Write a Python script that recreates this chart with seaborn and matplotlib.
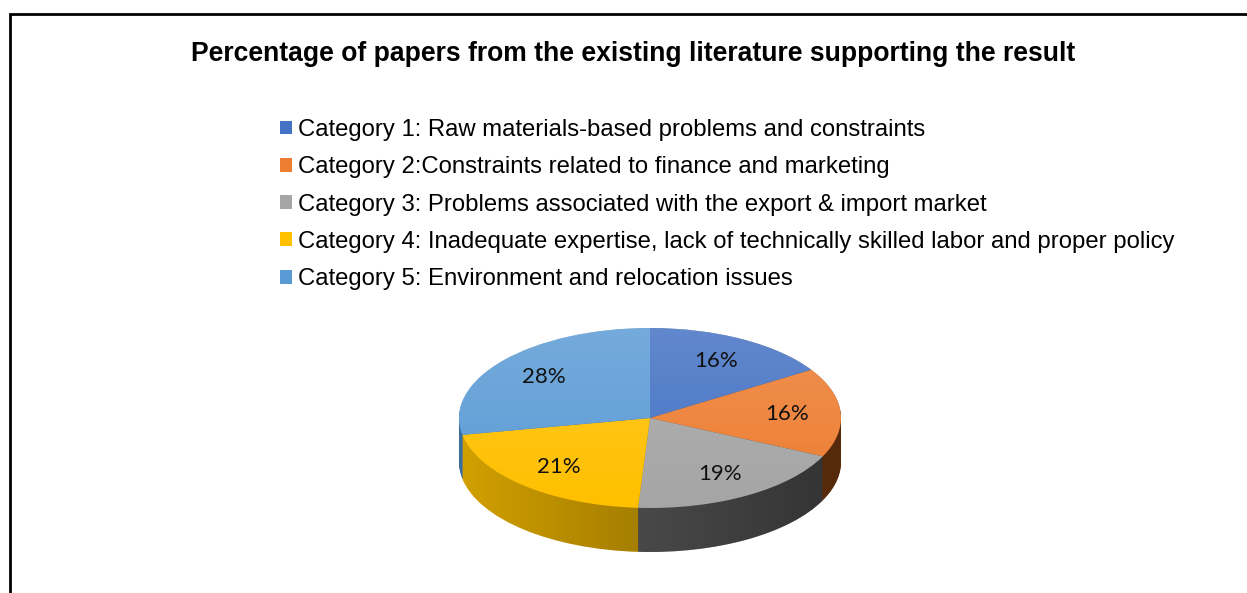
import numpy as np
import matplotlib
matplotlib.use("Agg")
import matplotlib.pyplot as plt
from matplotlib.patches import Polygon, Ellipse, Rectangle
import seaborn as sns

# ---- data ----
categories = [
    "Category 1: Raw materials-based problems and constraints",
    "Category 2:Constraints related to finance and marketing",
    "Category 3: Problems associated with the export & import market",
    "Category 4: Inadequate expertise, lack of technically skilled labor and proper policy",
    "Category 5: Environment and relocation issues",
]
percentages = [16, 16, 19, 21, 28]
title = "Percentage of papers from the existing literature supporting the result"

top_colors = ["#4472C4", "#ED7D31", "#A5A5A5", "#FFC000", "#5B9BD5"]
side_colors = ["#2b4a86", "#9a4a14", "#5c5c5c", "#d2a000", "#3a6e9e"]

sns.set_theme(style="white")
plt.rcParams["font.family"] = ["Liberation Sans", "DejaVu Sans"]
plt.rcParams["text.color"] = "black"

W, H = 1247, 593
fig = plt.figure(figsize=(W / 100, H / 100), dpi=100)
fig.patch.set_facecolor("white")

# frame lines (top and left)
fig.add_artist(Rectangle((9.5 / W, -0.1), 1.2, 1 - 14 / H + 0.1, transform=fig.transFigure,
                         fill=False, edgecolor="black", linewidth=2, clip_on=False))

# pie geometry in pixels
cx, cy = 650, 418
a, b = 191, 90
depth = 44
d = depth / b

ax = fig.add_axes([(cx - a) / W, (H - (cy + b + depth)) / H, 2 * a / W, (2 * b + depth) / H])

# side walls: stacked layers
n_layers = 45
for i in range(n_layers):
    t = d * (1 - i / n_layers)
    wedges, _ = ax.pie(percentages, colors=side_colors, startangle=90, counterclock=False,
                       center=(0, -t), radius=1, wedgeprops=dict(linewidth=0))
    for w in wedges:
        w.set_zorder(1)

# horizontal shading on sides
theta_top = np.linspace(0, np.pi, 100)
theta_bot = np.linspace(np.pi, 2 * np.pi, 100)
side_poly = np.vstack([
    np.column_stack([np.cos(theta_top), np.sin(theta_top)]),
    np.column_stack([np.cos(theta_bot), np.sin(theta_bot) - d]),
])
clip_side = Polygon(side_poly, closed=True, transform=ax.transData, facecolor="none", edgecolor="none")
ax.add_patch(clip_side)
grad = np.zeros((2, 256, 4))
grad[..., 3] = np.linspace(0.0, 0.45, 256)[None, :]
im = ax.imshow(grad, extent=[-1, 1, -1 - d, 1], aspect="auto", zorder=2, interpolation="bilinear")
im.set_clip_path(clip_side)

# top face
wedges, texts, autotexts = ax.pie(
    percentages, colors=top_colors, startangle=90, counterclock=False, radius=1,
    autopct="%d%%", pctdistance=0.72, wedgeprops=dict(linewidth=0),
    textprops=dict(fontsize=16, family=["Lato", "DejaVu Sans"], color="#111111"))
for w in wedges:
    w.set_zorder(3)
for t in autotexts:
    t.set_zorder(6)

# subtle vertical highlight on top face
clip_top = Ellipse((0, 0), 2, 2, transform=ax.transData, facecolor="none", edgecolor="none")
ax.add_patch(clip_top)
g2 = np.ones((256, 2, 4))
g2[..., 3] = np.linspace(0.0, 0.16, 256)[:, None]
im2 = ax.imshow(g2, extent=[-1, 1, -1, 1], aspect="auto", origin="lower", zorder=4,
                interpolation="bilinear")
im2.set_clip_path(clip_top)

ax.set_aspect("auto")
ax.set_xlim(-1, 1)
ax.set_ylim(-1 - d, 1)
ax.axis("off")

# title
fig.text(633.5 / W, 1 - 54 / H, title, ha="center", va="center", fontsize=19.1,
         fontweight="bold", color="black")

# legend
leg = fig.legend(wedges, categories, loc="upper left", bbox_to_anchor=(280 / W, 1 - 119 / H),
                 frameon=False, fontsize=17.2, handlelength=0.52, handleheight=0.52,
                 handletextpad=0.22, labelspacing=0.64, borderpad=0, borderaxespad=0,
                 labelcolor="black")

fig.savefig("out.png", dpi=100, facecolor="white")
